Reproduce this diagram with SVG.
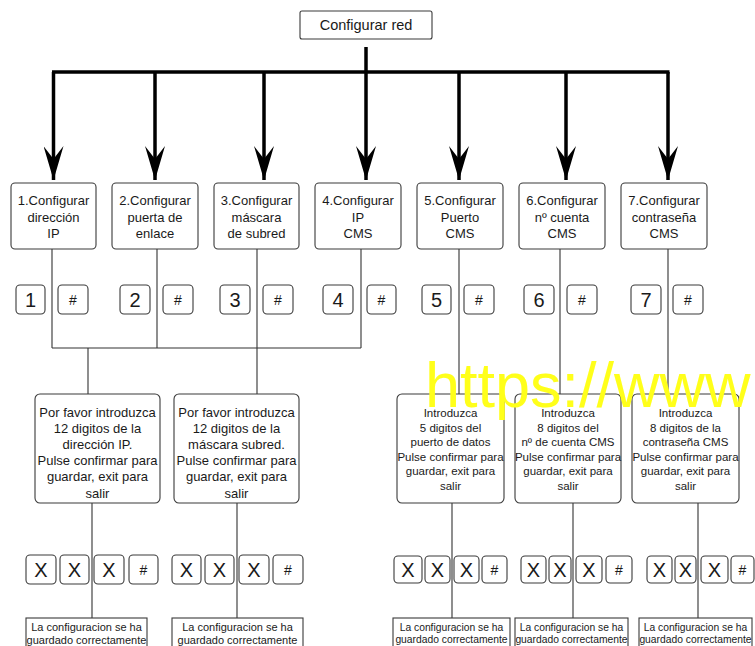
<svg xmlns="http://www.w3.org/2000/svg" width="755" height="646" viewBox="0 0 755 646">
<style>
.bx{fill:#fff;stroke:#3a3a3a;stroke-width:1.1}
.t{font-family:"Liberation Sans",Arial,sans-serif;fill:#1a1a1a;text-anchor:middle}
.n{font-size:13px}
.p{font-size:13px}
.q{font-size:11.5px}
.k{font-size:20px}
.h{font-size:14px}
.f1{font-size:11px}
.f2{font-size:10.3px}
.thick{stroke:#000;stroke-width:3.5;fill:none}
.thin{stroke:#333;stroke-width:1.1;fill:none}
</style>
<defs>
<marker id="ah" viewBox="0 0 34 20" refX="34" refY="10" markerWidth="34" markerHeight="20" markerUnits="userSpaceOnUse" orient="auto">
<path d="M0,0 L34,10 L0,20 L13,10 Z" fill="#000"/>
</marker>
</defs>

<g id="connectors">
<line class="thick" x1="366" y1="47" x2="366" y2="72"/>
<line class="thick" x1="52" y1="72" x2="669.5" y2="72"/>
<line class="thick" x1="53.5" y1="72" x2="53.5" y2="180" marker-end="url(#ah)"/>
<line class="thick" x1="155" y1="72" x2="155" y2="180" marker-end="url(#ah)"/>
<line class="thick" x1="264" y1="72" x2="264" y2="180" marker-end="url(#ah)"/>
<line class="thick" x1="366" y1="72" x2="366" y2="180" marker-end="url(#ah)"/>
<line class="thick" x1="459" y1="72" x2="459" y2="180" marker-end="url(#ah)"/>
<line class="thick" x1="566" y1="72" x2="566" y2="180" marker-end="url(#ah)"/>
<line class="thick" x1="668" y1="72" x2="668" y2="180" marker-end="url(#ah)"/>
<path class="thin" d="M52,249 V348 M157,249 V348 M257,249 V394 M361,249 V348 M52,348 H361 M88,348 V394"/>
<path class="thin" d="M459,249 V394 M560,249 V394 M668,249 V394"/>
<path class="thin" d="M92,503 V618 M237,503 V618 M452,503 V618 M573,503 V618 M698,503 V618"/>
</g>

<g id="root"><rect class="bx" x="300" y="11" width="132" height="28" rx="2"/><text class="t" x="366" y="30" font-size="14.5">Configurar red</text></g>

<g id="n1"><rect class="bx" x="11" y="183" width="85" height="66" rx="4"/><text class="t n" x="53.5" y="204.5">1.Configurar</text><text class="t n" x="53.5" y="221.5">dirección</text><text class="t n" x="53.5" y="237.5">IP</text></g>
<g id="n2"><rect class="bx" x="112" y="183" width="86" height="66" rx="4"/><text class="t n" x="155" y="204.5">2.Configurar</text><text class="t n" x="155" y="221.5">puerta de</text><text class="t n" x="155" y="237.5">enlace</text></g>
<g id="n3"><rect class="bx" x="214" y="183" width="85" height="66" rx="4"/><text class="t n" x="256.5" y="204.5">3.Configurar</text><text class="t n" x="256.5" y="221.5">máscara</text><text class="t n" x="256.5" y="237.5">de subred</text></g>
<g id="n4"><rect class="bx" x="315" y="183" width="86" height="66" rx="4"/><text class="t n" x="358" y="204.5">4.Configurar</text><text class="t n" x="358" y="221.5">IP</text><text class="t n" x="358" y="237.5">CMS</text></g>
<g id="n5"><rect class="bx" x="417" y="183" width="86" height="66" rx="4"/><text class="t n" x="460" y="204.5">5.Configurar</text><text class="t n" x="460" y="221.5">Puerto</text><text class="t n" x="460" y="237.5">CMS</text></g>
<g id="n6"><rect class="bx" x="519" y="183" width="86" height="66" rx="4"/><text class="t n" x="562" y="204.5">6.Configurar</text><text class="t n" x="562" y="221.5">nº cuenta</text><text class="t n" x="562" y="237.5">CMS</text></g>
<g id="n7"><rect class="bx" x="621" y="183" width="86" height="66" rx="4"/><text class="t n" x="664" y="204.5">7.Configurar</text><text class="t n" x="664" y="221.5">contraseña</text><text class="t n" x="664" y="237.5">CMS</text></g>

<g id="keys1">
<rect class="bx" x="16" y="285" width="29" height="29" rx="4"/><text class="t k" x="30.5" y="307">1</text>
<rect class="bx" x="58" y="285" width="30" height="29" rx="4"/><text class="t h" x="73" y="304.5">#</text>
<rect class="bx" x="120" y="285" width="30" height="29" rx="4"/><text class="t k" x="135" y="307">2</text>
<rect class="bx" x="163" y="285" width="30" height="29" rx="4"/><text class="t h" x="178" y="304.5">#</text>
<rect class="bx" x="220" y="285" width="30" height="29" rx="4"/><text class="t k" x="235" y="307">3</text>
<rect class="bx" x="263" y="285" width="30" height="29" rx="4"/><text class="t h" x="278" y="304.5">#</text>
<rect class="bx" x="323" y="285" width="30" height="29" rx="4"/><text class="t k" x="338" y="307">4</text>
<rect class="bx" x="367" y="285" width="29" height="29" rx="4"/><text class="t h" x="381.5" y="304.5">#</text>
<rect class="bx" x="422" y="285" width="29" height="29" rx="4"/><text class="t k" x="436.5" y="307">5</text>
<rect class="bx" x="464" y="285" width="30" height="29" rx="4"/><text class="t h" x="479" y="304.5">#</text>
<rect class="bx" x="524" y="285" width="30" height="29" rx="4"/><text class="t k" x="539" y="307">6</text>
<rect class="bx" x="567" y="285" width="30" height="29" rx="4"/><text class="t h" x="582" y="304.5">#</text>
<rect class="bx" x="631" y="285" width="30" height="29" rx="4"/><text class="t k" x="646" y="307">7</text>
<rect class="bx" x="673" y="285" width="30" height="29" rx="4"/><text class="t h" x="688" y="304.5">#</text>
</g>

<g id="pA"><rect class="bx" x="35" y="394" width="125" height="109" rx="5"/>
<text class="t p" x="97.5" y="416.5">Por favor introduzca</text><text class="t p" x="97.5" y="432.7">12 digitos de la</text><text class="t p" x="97.5" y="448.9">dirección IP.</text><text class="t p" x="97.5" y="465.1">Pulse confirmar para</text><text class="t p" x="97.5" y="481.3">guardar, exit para</text><text class="t p" x="97.5" y="497.5">salir</text></g>
<g id="pB"><rect class="bx" x="174" y="394" width="125" height="109" rx="5"/>
<text class="t p" x="236.5" y="416.5">Por favor introduzca</text><text class="t p" x="236.5" y="432.7">12 digitos de la</text><text class="t p" x="236.5" y="448.9">máscara subred.</text><text class="t p" x="236.5" y="465.1">Pulse confirmar para</text><text class="t p" x="236.5" y="481.3">guardar, exit para</text><text class="t p" x="236.5" y="497.5">salir</text></g>
<g id="pC"><rect class="bx" x="397" y="394" width="107" height="109" rx="5"/>
<text class="t q" x="450.5" y="417">Introduzca</text><text class="t q" x="450.5" y="431.5">5 digitos del</text><text class="t q" x="450.5" y="446">puerto de datos</text><text class="t q" x="450.5" y="460.5">Pulse confirmar para</text><text class="t q" x="450.5" y="475">guardar, exit para</text><text class="t q" x="450.5" y="489.5">salir</text></g>
<g id="pD"><rect class="bx" x="515" y="394" width="106" height="109" rx="5"/>
<text class="t q" x="568" y="417">Introduzca</text><text class="t q" x="568" y="431.5">8 digitos del</text><text class="t q" x="568" y="446">nº de cuenta CMS</text><text class="t q" x="568" y="460.5">Pulse confirmar para</text><text class="t q" x="568" y="475">guardar, exit para</text><text class="t q" x="568" y="489.5">salir</text></g>
<g id="pE"><rect class="bx" x="632" y="394" width="107" height="109" rx="5"/>
<text class="t q" x="685.5" y="417">Introduzca</text><text class="t q" x="685.5" y="431.5">8 digitos de la</text><text class="t q" x="685.5" y="446">contraseña CMS</text><text class="t q" x="685.5" y="460.5">Pulse confirmar para</text><text class="t q" x="685.5" y="475">guardar, exit para</text><text class="t q" x="685.5" y="489.5">salir</text></g>

<g id="keys2">
<rect class="bx" x="26" y="555" width="30" height="29" rx="4"/><text class="t k" x="41" y="577">X</text>
<rect class="bx" x="60" y="555" width="29" height="29" rx="4"/><text class="t k" x="74.5" y="577">X</text>
<rect class="bx" x="94" y="555" width="30" height="29" rx="4"/><text class="t k" x="109" y="577">X</text>
<rect class="bx" x="129" y="555" width="29" height="29" rx="4"/><text class="t h" x="143.5" y="574.5">#</text>
<rect class="bx" x="172" y="555" width="29" height="29" rx="4"/><text class="t k" x="186.5" y="577">X</text>
<rect class="bx" x="205" y="555" width="29" height="29" rx="4"/><text class="t k" x="219.5" y="577">X</text>
<rect class="bx" x="239" y="555" width="30" height="29" rx="4"/><text class="t k" x="254" y="577">X</text>
<rect class="bx" x="273" y="555" width="30" height="29" rx="4"/><text class="t h" x="288" y="574.5">#</text>
</g>
<g id="keys3">
<rect class="bx" x="394" y="556" width="28" height="27" rx="4"/><text class="t k" x="408" y="577">X</text>
<rect class="bx" x="425" y="556" width="25" height="27" rx="4"/><text class="t k" x="437.5" y="577">X</text>
<rect class="bx" x="454" y="556" width="25" height="27" rx="4"/><text class="t k" x="466.5" y="577">X</text>
<rect class="bx" x="482" y="556" width="25" height="27" rx="4"/><text class="t h" x="494.5" y="574.5">#</text>
<rect class="bx" x="521" y="556" width="25" height="27" rx="4"/><text class="t k" x="533.5" y="577">X</text>
<rect class="bx" x="549" y="556" width="22" height="27" rx="4"/><text class="t k" x="560" y="577">X</text>
<rect class="bx" x="576" y="556" width="26" height="27" rx="4"/><text class="t k" x="589" y="577">X</text>
<rect class="bx" x="606" y="556" width="26" height="27" rx="4"/><text class="t h" x="619" y="574.5">#</text>
<rect class="bx" x="647" y="556" width="25" height="27" rx="4"/><text class="t k" x="659.5" y="577">X</text>
<rect class="bx" x="675" y="556" width="21" height="27" rx="4"/><text class="t k" x="685.5" y="577">X</text>
<rect class="bx" x="701" y="556" width="27" height="27" rx="4"/><text class="t k" x="714.5" y="577">X</text>
<rect class="bx" x="731" y="556" width="23" height="27" rx="4"/><text class="t h" x="742.5" y="574.5">#</text>
</g>

<g id="doneA"><rect class="bx" x="26" y="618" width="121" height="40"/><text class="t f1" x="86.5" y="631">La configuracion se ha</text><text class="t f1" x="86.5" y="644">guardado correctamente</text></g>
<g id="doneB"><rect class="bx" x="172" y="618" width="131" height="40"/><text class="t f1" x="237.5" y="631">La configuracion se ha</text><text class="t f1" x="237.5" y="644">guardado correctamente</text></g>
<g id="doneC"><rect class="bx" x="393" y="618" width="117" height="40"/><text class="t f2" x="451.5" y="631">La configuracion se ha</text><text class="t f2" x="451.5" y="643">guardado correctamente</text></g>
<g id="doneD"><rect class="bx" x="515" y="618" width="113" height="40"/><text class="t f2" x="571.5" y="631">La configuracion se ha</text><text class="t f2" x="571.5" y="643">guardado correctamente</text></g>
<g id="doneE"><rect class="bx" x="639" y="618" width="113" height="40"/><text class="t f2" x="695.5" y="631">La configuracion se ha</text><text class="t f2" x="695.5" y="643">guardado correctamente</text></g>

<text x="425" y="407" font-family="Liberation Sans,Arial,sans-serif" font-size="63" fill="#ffff1a">https://www</text>
</svg>
